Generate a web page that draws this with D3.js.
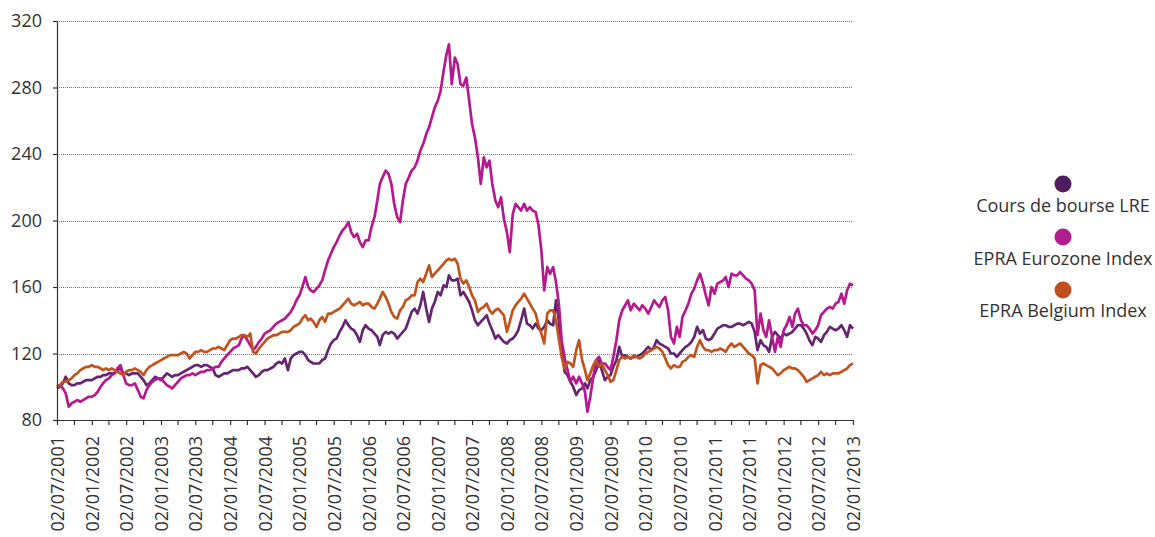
<!DOCTYPE html>
<html>
<head>
<meta charset="utf-8">
<script src="https://cdnjs.cloudflare.com/ajax/libs/d3/7.8.5/d3.min.js"></script>
<style>
    body { margin: 0; background: #fff; }
    svg text { font-family: "Open Sans", sans-serif; fill: #333; }
    .grid line { stroke: #777; stroke-dasharray: 1,1; }
    .axis path, .axis line { stroke: #333; stroke-width: 1.2; }
    .axis text { font-size: 18px; }
    .legend text { font-size: 18px; }
</style>
</head>
<body>
<div id="chart"></div>
<script>
// series names + colours (legend order)
var seriesNames = ["Cours de bourse LRE", "EPRA Eurozone Index", "EPRA Belgium Index"];
var lineColors  = ["#642670", "#b5198f", "#c0541c"];
var dotColors   = ["#4f1c5e", "#b01e8c", "#bf4f1c"];

// axis ticks
var yTicks = [80, 120, 160, 200, 240, 280, 320];
var xTickLabels = ["02/07/2001", "02/01/2002", "02/07/2002", "02/01/2003", "02/07/2003", "02/01/2004",
                   "02/07/2004", "02/01/2005", "02/07/2005", "02/01/2006", "02/07/2006", "02/01/2007",
                   "02/07/2007", "02/01/2008", "02/07/2008", "02/01/2009", "02/07/2009", "02/01/2010",
                   "02/07/2010", "02/01/2011", "02/07/2011", "02/01/2012", "02/07/2012", "02/01/2013"];

// values, two per month (the 2nd and the 17th), from 02/07/2001
var lre = [
    99,100,102,106,102,101,101,102,102,103,104,104,104,105,106,106,107,107,108,108,108,110,111,108,
    108,107,108,108,108,106,104,101,102,104,106,105,104,106,108,107,106,107,107,108,109,110,111,112,
    113,113,112,113,113,112,111,107,106,107,108,108,109,110,110,110,111,111,112,110,108,106,107,109,
    110,110,111,112,114,115,114,117,110,117,119,120,121,121,119,116,115,114,114,114,116,117,122,126,
    128,129,133,136,140,137,135,134,131,127,134,137,135,134,132,130,125,131,133,132,133,132,129,131,
    133,135,140,145,147,144,149,157,147,139,147,151,157,155,161,160,167,164,164,165,155,157,154,151,
    146,140,137,139,141,143,138,134,129,131,129,127,126,128,129,131,134,140,147,138,137,135,138,135,
    134,136,140,138,137,152,140,121,109,107,103,100,95,98,99,102,99,104,106,110,116,110,104,106,
    107,112,116,124,118,119,118,117,118,118,119,120,122,124,122,124,128,126,125,124,123,120,120,118,
    120,122,124,125,127,130,136,132,134,129,128,129,132,135,136,137,137,136,136,137,138,138,137,138,
    139,138,133,122,128,125,124,121,130,133,131,129,132,131,132,133,135,137,137,135,132,128,125,130,
    129,127,131,133,136,135,134,135,137,134,130,137,135
];

var eurozone = [
    100,101,99,96,88,90,91,92,91,92,93,94,94,95,97,100,102,104,105,107,108,111,113,107,
    102,101,101,102,98,94,93,98,101,103,104,105,105,103,101,100,99,101,103,105,106,107,107,108,
    107,108,109,109,110,110,111,112,112,115,117,119,121,123,124,125,129,131,128,125,122,124,127,129,
    132,133,134,136,138,139,140,141,143,145,148,152,155,160,166,160,158,157,159,161,164,170,176,180,
    184,187,191,194,196,199,193,190,192,187,184,188,188,196,202,212,222,226,230,228,222,210,202,199,
    212,222,226,230,232,236,242,246,252,256,262,268,272,278,290,300,306,282,298,294,282,281,286,272,
    258,250,238,222,238,232,236,222,212,208,214,201,193,181,204,210,208,206,210,206,208,206,205,197,
    182,158,172,168,172,163,150,128,117,110,103,106,102,106,102,97,85,94,106,116,118,114,114,112,
    110,118,128,140,146,149,152,146,150,148,146,149,147,144,148,152,150,148,152,154,146,130,126,136,
    130,142,146,150,156,159,164,168,162,155,149,160,156,162,163,164,166,160,168,167,167,169,167,165,
    164,162,158,131,144,134,130,140,130,121,130,124,134,137,142,136,144,147,140,137,137,135,132,134,
    137,143,145,147,148,147,150,151,156,150,158,162,161
];

var belgium = [
    100,101,103,103,104,105,107,108,110,111,112,112,113,112,112,111,110,111,110,111,110,109,108,107,
    109,110,110,111,110,109,107,110,112,113,114,115,116,117,118,119,119,119,119,120,121,120,117,119,
    121,121,122,121,121,122,123,123,124,123,122,125,128,129,129,130,131,131,130,132,121,120,123,125,
    127,129,130,131,131,132,133,133,133,134,136,137,138,141,143,140,141,139,136,140,142,139,144,144,
    145,146,147,149,151,153,150,149,150,151,149,150,150,148,147,150,153,157,154,150,145,142,141,146,
    148,152,153,155,155,163,165,163,168,173,166,168,170,172,174,176,177,176,177,174,165,162,164,160,
    155,152,145,147,148,150,146,144,146,147,145,143,133,139,146,149,151,153,156,153,150,147,144,137,
    132,126,144,146,146,140,129,118,111,115,114,112,122,128,116,110,104,108,113,116,112,114,110,107,
    103,104,110,116,118,117,118,117,119,118,117,118,120,121,122,123,124,123,121,117,113,111,113,112,
    112,115,116,118,119,118,124,128,124,122,122,121,122,122,123,122,121,124,126,124,125,126,124,122,
    120,119,117,102,113,114,113,112,111,109,107,108,110,111,112,111,111,110,108,106,103,104,105,106,
    107,109,107,108,107,108,108,108,109,110,111,113,114
];

var margin = { top: 21, left: 57, right: 302, bottom: 117 };
var width  = 1155 - margin.left - margin.right;
var height = 537 - margin.top - margin.bottom;

var parseDate = d3.timeParse("%d/%m/%Y");
var tickDates = xTickLabels.map(parseDate);

// quarter ticks sit between the labelled ones
var minorDates = tickDates.slice(0, -1).map(function(d) { return d3.timeMonth.offset(d, 3); });

function seriesDates(values) {
    return values.map(function(v, i) {
        return new Date(2001, 6 + Math.floor(i / 2), i % 2 ? 17 : 2);
    });
}

var svg = d3.select("#chart")
    .append("svg")
    .attr("width", 1155)
    .attr("height", 537);

var plot = svg.append("g")
    .attr("transform", "translate(" + margin.left + "," + margin.top + ")");

var xScale = d3.scaleTime()
    .domain([tickDates[0], tickDates[tickDates.length - 1]])
    .range([0, width]);

var yScale = d3.scaleLinear()
    .domain([80, 320])
    .range([height, 0]);

// dotted gridlines
plot.append("g")
    .attr("class", "grid")
    .selectAll("line")
    .data(yTicks.slice(1))
    .enter().append("line")
    .attr("x1", 0)
    .attr("x2", width)
    .attr("y1", function(d) { return Math.round(yScale(d)) + 0.5; })
    .attr("y2", function(d) { return Math.round(yScale(d)) + 0.5; });

// lines
var line = d3.line()
    .x(function(d) { return xScale(d[0]); })
    .y(function(d) { return yScale(d[1]); });

[lre, eurozone, belgium].forEach(function(values, k) {
    var dates = seriesDates(values);
    plot.append("path")
        .datum(values.map(function(v, i) { return [dates[i], v]; }))
        .attr("fill", "none")
        .attr("stroke", lineColors[k])
        .attr("stroke-width", 2.7)
        .attr("stroke-linejoin", "round")
        .attr("d", line);
});

// y axis
var yAxis = d3.axisLeft(yScale)
    .tickValues(yTicks)
    .tickSize(4)
    .tickPadding(11);

plot.append("g")
    .attr("class", "axis")
    .call(yAxis);

// x axis, labels rotated
var xAxis = d3.axisBottom(xScale)
    .tickValues(tickDates)
    .tickSize(5)
    .tickFormat(function(d, i) { return xTickLabels[i]; });

var xAxisG = plot.append("g")
    .attr("class", "axis")
    .attr("transform", "translate(0," + height + ")")
    .call(xAxis);

xAxisG.selectAll("text")
    .attr("transform", "rotate(-90)")
    .attr("text-anchor", "end")
    .attr("x", -16)
    .attr("y", 0)
    .attr("dy", "0.36em");

xAxisG.selectAll(".minor")
    .data(minorDates)
    .enter().append("line")
    .attr("class", "minor")
    .attr("x1", function(d) { return xScale(d); })
    .attr("x2", function(d) { return xScale(d); })
    .attr("y1", 0)
    .attr("y2", 5)
    .attr("stroke", "#333");

xAxisG.select(".domain").attr("d", "M0.5,0.5H" + width);
plot.select(".axis .domain").attr("d", "M0.5," + height + "V0");

// legend
var legend = svg.append("g")
    .attr("class", "legend")
    .attr("transform", "translate(1063,0)");

seriesNames.forEach(function(name, i) {
    legend.append("circle")
        .attr("cx", 0)
        .attr("cy", 184 + i * 53)
        .attr("r", 8.5)
        .attr("fill", dotColors[i]);
    legend.append("text")
        .attr("x", 0)
        .attr("y", 212 + i * 52.5)
        .attr("text-anchor", "middle")
        .text(name);
});
</script>
</body>
</html>
